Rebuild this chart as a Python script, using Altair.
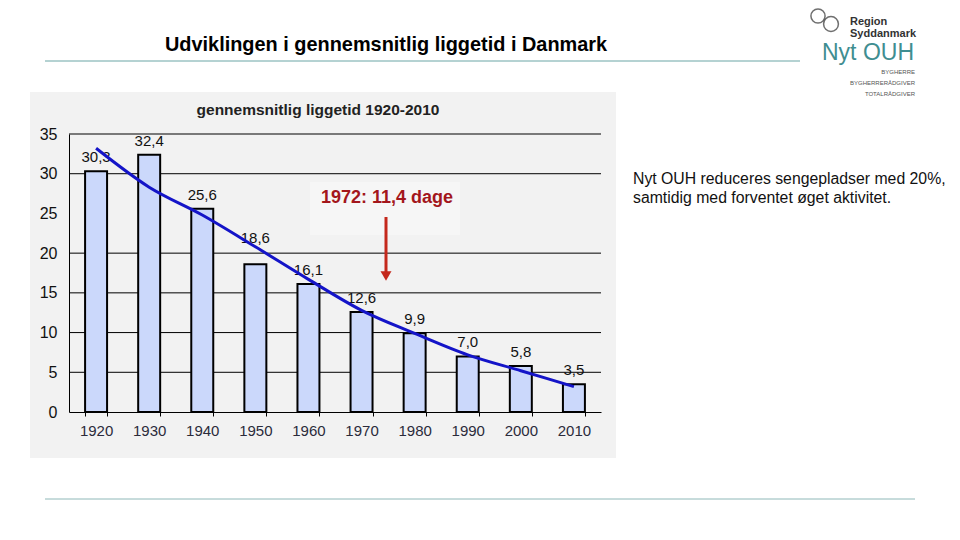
import altair as alt
import pandas as pd

# ---- data ----
years = ["1920", "1930", "1940", "1950", "1960", "1970", "1980", "1990", "2000", "2010"]
days = [30.3, 32.4, 25.6, 18.6, 16.1, 12.6, 9.9, 7.0, 5.8, 3.5]
trend = [33.2, 28.3, 24.8, 20.8, 16.7, 12.8, 9.9, 7.2, 5.2, 3.2]
grid_values = [5, 10, 15, 20, 30, 35]
y_ticks = [0, 5, 10, 15, 20, 25, 30, 35]

slide_title = "Udviklingen i gennemsnitlig liggetid i Danmark"
chart_title = "gennemsnitlig liggetid 1920-2010"
annotation = "1972: 11,4 dage"
side_lines = ["Nyt OUH reduceres sengepladser med 20%,", "samtidig med forventet øget aktivitet."]
logo_lines = ["Region", "Syddanmark"]
logo_big = "Nyt OUH"
logo_small = ["BYGHERRE", "BYGHERRERÅDGIVER", "TOTALRÅDGIVER"]

FONT = "Liberation Sans"

df = pd.DataFrame({
    "year": years,
    "days": days,
    "trend": trend,
    "label": [f"{v:.1f}".replace(".", ",") for v in days],
})
one = pd.DataFrame({"k": [0]})

x_scale = alt.Scale(domain=years, paddingInner=0.586, paddingOuter=0.303)
y_scale = alt.Scale(domain=[0, 35], nice=False, zero=True)

x_axis = alt.Axis(title=None, labelAngle=0, tickBand="extent", domainColor="black",
                  tickColor="black", tickSize=4, labelFont=FONT, labelFontSize=15,
                  labelColor="#2b2b3b", labelPadding=7, zindex=1)
y_axis = alt.Axis(title=None, values=y_ticks, grid=False, ticks=False, domainColor="black",
                  labelFont=FONT, labelFontSize=16, labelColor="#111111", labelPadding=12,
                  zindex=1)


def X():
    return alt.X("year:N", scale=x_scale, sort=years, axis=x_axis)


def Y(field):
    return alt.Y(field, scale=y_scale, axis=y_axis)


def txt(text, x, y, size, color="#000000", weight="normal", align="left", line_height=None):
    kw = dict(text=text, font=FONT, fontSize=size, fontWeight=weight, color=color,
              align=align, baseline="middle")
    if line_height is not None:
        kw["lineHeight"] = line_height
    return alt.Chart(one).mark_text(**kw).encode(x=alt.value(x), y=alt.value(y))


# panel background
panel = alt.Chart(one).mark_rect(fill="#f2f2f2").encode(
    x=alt.value(-39), x2=alt.value(547), y=alt.value(-42), y2=alt.value(324))
faint_box = alt.Chart(one).mark_rect(fill="#f6f6f6").encode(
    x=alt.value(241), x2=alt.value(391), y=alt.value(48), y2=alt.value(101))

grid = alt.Chart(pd.DataFrame({"g": grid_values})).mark_rule(color="black", strokeWidth=1).encode(
    y=Y("g:Q"))

base = alt.Chart(df)
bars = base.mark_bar(fill="#cbd8fb", stroke="black", strokeWidth=2).encode(
    x=X(), y=Y("days:Q"))

labels = base.mark_text(baseline="alphabetic", dy=-9, font=FONT, fontSize=15, color="#111111").encode(
    x=X(), y=Y("days:Q"), text="label:N"
).transform_filter("datum.year != '1950'")
labels_1950 = base.mark_text(baseline="alphabetic", dy=-21, font=FONT, fontSize=15, color="#111111").encode(
    x=X(), y=Y("days:Q"), text="label:N"
).transform_filter("datum.year == '1950'")

line = base.mark_line(color="#1414c8", strokeWidth=3, interpolate="monotone").encode(
    x=X(), y=Y("trend:Q"))

ann = txt(annotation, 318, 64, 18, color="#a3161c", weight="bold", align="center")
shaft = alt.Chart(one).mark_rule(color="#c4281c", strokeWidth=3).encode(
    x=alt.value(317), y=alt.value(83), y2=alt.value(138))
head = alt.Chart(one).mark_point(shape="triangle-down", filled=True, size=120, color="#c4281c",
                                 opacity=1).encode(x=alt.value(317), y=alt.value(142))

ptitle = txt(chart_title, 249, -24, 15.5, color="#222222", weight="bold", align="center")

# slide elements
stitle = txt(slide_title, 96, -89, 19.9, weight="bold")
top_line = alt.Chart(one).mark_rule(color="#6aa5a5", strokeWidth=1).encode(
    x=alt.value(-24), x2=alt.value(731), y=alt.value(-73))
bottom_line = alt.Chart(one).mark_rule(color="#8fb8b8", strokeWidth=1).encode(
    x=alt.value(-24), x2=alt.value(846), y=alt.value(365))

side = txt(side_lines, 564, 45, 15.8, color="#111111", line_height=19)

logo1 = txt(logo_lines[0], 781, -112, 11, color="#333333", weight="bold")
logo2 = txt(logo_lines[1], 781, -100, 11, color="#333333", weight="bold")
logo3 = txt(logo_big, 845, -81, 23, color="#3f8e91", align="right")
logo_s = txt(logo_small, 846, -62, 6, color="#555555", align="right", line_height=11)

ring1 = alt.Chart(one).mark_point(shape="circle", size=200, color="#333333", strokeWidth=1.5,
                                  filled=False).encode(x=alt.value(749), y=alt.value(-118))
ring2 = alt.Chart(one).mark_point(shape="circle", size=220, color="#333333", strokeWidth=1.5,
                                  filled=False).encode(x=alt.value(762), y=alt.value(-110))

chart = alt.layer(
    panel, faint_box, grid, bars, labels, labels_1950, line, ann, shaft, head, ptitle,
    stitle, top_line, bottom_line, side, logo1, logo2, logo3, logo_s, ring1, ring2
).properties(
    width=532, height=278,
    autosize=alt.AutoSizeParams(type="none"),
    padding={"left": 61, "top": 126, "right": 351, "bottom": 120},
    background="white",
).configure_view(stroke=None)

chart.save("out.html", embed_options={"renderer": "svg", "actions": False})
